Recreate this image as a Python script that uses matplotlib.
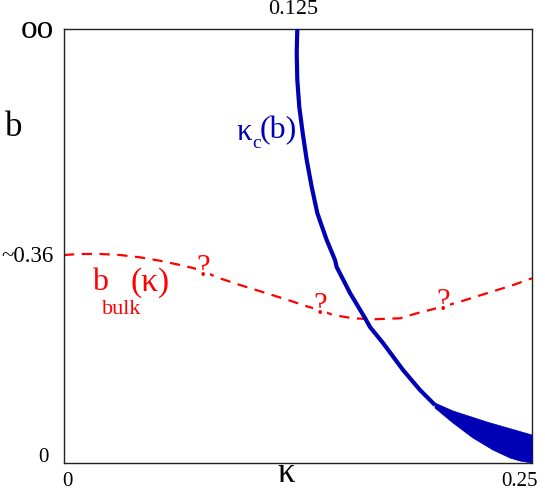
import matplotlib
matplotlib.use("Agg")
import matplotlib.pyplot as plt
import numpy as np

plt.rcParams['font.family'] = ['Liberation Serif', 'DejaVu Serif']

# kappa axis 0..0.25 ; b axis displayed 0..B_TOP (top = infinity)
B_TOP = 0.7516

# critical line kappa_c(b)
kc_kappa = [0.12463, 0.12431, 0.12463, 0.12569, 0.12751, 0.12965, 0.13232, 0.13531,
            0.13713, 0.14033, 0.14476, 0.14567, 0.15278, 0.16079, 0.16346, 0.17041,
            0.18109, 0.19017, 0.19818]
kc_b = [0.7516, 0.7101, 0.6633, 0.6166, 0.5715, 0.5248, 0.4780, 0.4330,
        0.4157, 0.3862, 0.3516, 0.3394, 0.2944, 0.2511, 0.2355, 0.2078,
        0.1611, 0.1264, 0.1004]

# band (uncertainty region) beyond kink
band_up_kappa = [0.19818, 0.20780, 0.22596, 0.25000]
band_up_b = [0.1039, 0.0901, 0.0710, 0.0485]
band_lo_kappa = [0.19818, 0.20780, 0.21848, 0.22917, 0.23825, 0.24359, 0.25000]
band_lo_b = [0.0952, 0.0693, 0.0433, 0.0225, 0.0087, 0.0035, 0.0000]

# b_bulk(kappa) dashed line
bb_kappa = [0.0000, 0.00855, 0.01923, 0.02991, 0.04060, 0.05128, 0.06197, 0.06891,
            0.07430, 0.08157, 0.09402, 0.10828, 0.12249, 0.13034, 0.13675, 0.14370,
            0.15438, 0.16506, 0.17949, 0.18841, 0.19551, 0.20246, 0.21154, 0.22580,
            0.24001, 0.25000]
bb_b = [0.3602, 0.3620, 0.3620, 0.3602, 0.3562, 0.3503, 0.3429, 0.3377,
        0.3325, 0.3216, 0.3083, 0.2939, 0.2793, 0.2707, 0.2650, 0.2563,
        0.2506, 0.2489, 0.2506, 0.2592, 0.2650, 0.2710, 0.2793, 0.2939,
        0.3083, 0.3199]

# question mark positions
q_kappa = [0.07425, 0.13675, 0.20246]
q_b = [0.3377, 0.2702, 0.2771]

fig = plt.figure(figsize=(5.45, 4.91), dpi=100)
ax = fig.add_axes([64/545, 1-463/491, (532-64)/545, (463-29)/491])
ax.set_xlim(0, 0.25)
ax.set_ylim(0, B_TOP)
ax.set_xticks([])
ax.set_yticks([])
for s in ax.spines.values():
    s.set_linewidth(1.0)
    s.set_color('#222222')

blue = '#0000b4'
red = '#ff0000'
ax.plot(kc_kappa, kc_b, color=blue, lw=3.0, solid_capstyle='butt',
        solid_joinstyle='round', zorder=3)
poly_x = band_up_kappa + band_lo_kappa[::-1]
poly_y = band_up_b + band_lo_b[::-1]
ax.fill(poly_x, poly_y, color=blue, lw=0.5, ec=blue, zorder=3, clip_on=False)

ax.plot(bb_kappa, bb_b, color=red, lw=1.6, dashes=(4.6, 3.4), zorder=2)
for qx, qy in zip(q_kappa, q_b):
    ax.text(qx, qy, '?', color=red, fontsize=22, ha='center', va='center',
            zorder=4, bbox=dict(fc='white', ec='none', pad=0.1))

# curve labels (pixel positions converted to figure coords)
def ft(px, py, s, **kw):
    fig.text(px/545, 1-py/491, s, **kw)

ft(236, 132, 'κ', color=blue, fontsize=22, ha='left', va='center')
ft(252, 143, 'c', color=blue, fontsize=14, ha='left', va='center')
ft(260, 131, '(b)', color=blue, fontsize=23, ha='left', va='center')

ft(92, 283, 'b', color=red, fontsize=23, ha='left', va='center')
ft(102, 309, 'bulk', color=red, fontsize=16, ha='left', va='center')
ft(131, 283, '(κ)', color=red, fontsize=24, ha='left', va='center')

# axis annotations
ft(37, 30, 'oo', fontsize=24, ha='center', va='center')
ft(14, 127, 'b', fontsize=25, ha='center', va='center')
ft(27, 257, '~0.36', fontsize=16.5, ha='center', va='center')
ft(43, 458, '0', fontsize=15, ha='center', va='center')
ft(67, 482, '0', fontsize=15, ha='center', va='center')
ft(519.5, 482, '0.25', fontsize=15, ha='center', va='center')
ft(293, 10, '0.125', fontsize=16, ha='center', va='center')
ft(286, 490.5, 'κ', fontsize=25, ha='center', va='bottom')

fig.savefig('out.png', dpi=100)
